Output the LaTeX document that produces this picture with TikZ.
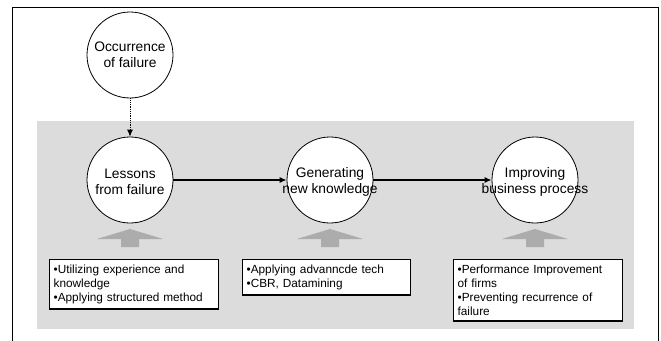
\documentclass[tikz,border=0pt]{standalone}
\usepackage{fontspec}
\setmainfont{Liberation Sans}
\usetikzlibrary{arrows.meta}
\usetikzlibrary{positioning}

\definecolor{bandgray}{RGB}{220,220,220}
\definecolor{pushgray}{RGB}{172,172,172}

\tikzset{
  stage/.style={draw=black, thick, circle, fill=white, minimum size=86pt, inner sep=0pt},
  stagetext/.style={align=center, font=\fontsize{13.8}{16}\selectfont},
  notebox/.style={draw=black, line width=1.3pt, fill=white, anchor=north west, align=left,
                  inner xsep=4pt, inner ysep=5pt, font=\fontsize{11.8}{14.2}\selectfont},
  flow/.style={black, line width=1.3pt, -{Latex[length=7pt,width=6pt]}}
}

\begin{document}
\begin{tikzpicture}[x=1pt,y=-1pt]
  \useasboundingbox (0,0) rectangle (661,340);
  % frame and band
  \draw[black, line width=0.9pt] (12,341) -- (12,7) -- (658,7) -- (658,341);
  \fill[bandgray] (37,121) rectangle (634,329);

  % circles
  \node[stage] (occ) at (130,55) {};
  \node[stage] (les) at (130,180) {};
  \node[stage] (gen) at (330,180) {};
  \node[stage] (imp) at (535,180) {};
  \node[stagetext] at (occ) {Occurrence\\of failure};
  \node[stagetext] at ([yshift=-2pt]les) {Lessons\\from failure};
  \node[stagetext] at ([yshift=-2pt]gen) {Generating\\new knowledge};
  \node[stagetext] at ([yshift=-2pt]imp) {Improving\\business process};

  \draw[black, thick, densely dotted, -{Latex[length=7pt,width=6pt]}] (occ) -- (les);
  \draw[flow] (les) -- (gen);
  \draw[flow] (gen) -- (imp);

  % gray push arrows
  \foreach \x in {130, 330, 535} {
      \fill[pushgray] (\x-9,247) -- (\x-9,239) -- (\x-33,239) -- (\x,229)
                      -- (\x+33,239) -- (\x+9,239) -- (\x+9,247) -- cycle;
  }

  % notes
  \node[notebox, text width=161pt] (n1) at (49,259)
      {•Utilizing experience and\\knowledge\\•Applying structured method};
  \node[notebox, text width=160pt] (n2) at (242,259)
      {•Applying advanncde tech\\•CBR, Datamining};
  \node[notebox, text width=161pt] (n3) at (453,259)
      {•Performance Improvement\\of firms\\•Preventing recurrence of\\failure};
\end{tikzpicture}
\end{document}
